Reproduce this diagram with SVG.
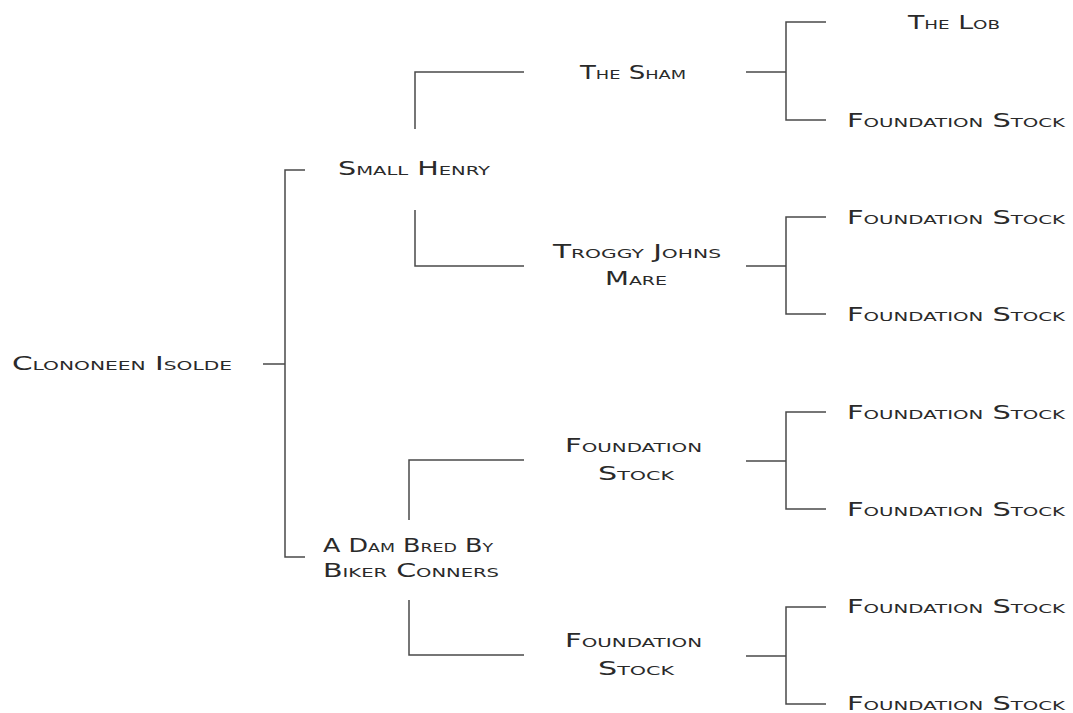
<svg xmlns="http://www.w3.org/2000/svg" width="1073" height="713" viewBox="0 0 1073 713">
<style>
text{font-family:"DejaVu Sans","Liberation Sans",sans-serif;font-size:19px;font-variant:small-caps;fill:#2a2a2a;}
.c{fill:none;stroke:#4a4a4a;stroke-width:1.5;}
</style>
<rect width="1073" height="713" fill="#fff"/>
<g id="connectors" class="c">
<path d="M263,364H285M305,170H285V557H305"/>
<path d="M415,129V72H524M415,210V266H524"/>
<path d="M409,520V460H524M409,600V655H524"/>
<path d="M746,72H786M826,22H786V120H826"/>
<path d="M746,266H786M826,217H786V314H826"/>
<path d="M746,461H786M826,412H786V509H826"/>
<path d="M746,656H786M826,607H786V704H826"/>
</g>
<g id="n-root"><text x="12" y="370" textLength="220" lengthAdjust="spacingAndGlyphs">Clononeen Isolde</text></g>
<g id="n-small-henry"><text x="338" y="175" textLength="152" lengthAdjust="spacingAndGlyphs">Small Henry</text></g>
<g id="n-dam-bred"><text x="323" y="552" textLength="170" lengthAdjust="spacingAndGlyphs">A Dam Bred By</text><text x="323" y="577" textLength="176" lengthAdjust="spacingAndGlyphs">Biker Conners</text></g>
<g id="n-the-sham"><text x="580" y="79" textLength="106" lengthAdjust="spacingAndGlyphs">The Sham</text></g>
<g id="n-troggy"><text x="553" y="258" textLength="168" lengthAdjust="spacingAndGlyphs">Troggy Johns</text><text x="605" y="285" textLength="62" lengthAdjust="spacingAndGlyphs">Mare</text></g>
<g id="n-fs-a"><text x="565" y="452" textLength="137" lengthAdjust="spacingAndGlyphs">Foundation</text><text x="598" y="480" textLength="76" lengthAdjust="spacingAndGlyphs">Stock</text></g>
<g id="n-fs-b"><text x="565" y="647" textLength="137" lengthAdjust="spacingAndGlyphs">Foundation</text><text x="598" y="675" textLength="76" lengthAdjust="spacingAndGlyphs">Stock</text></g>
<g id="n-the-lob"><text x="908" y="29" textLength="92" lengthAdjust="spacingAndGlyphs">The Lob</text></g>
<g id="n-fs-1"><text x="847" y="127" textLength="218" lengthAdjust="spacingAndGlyphs">Foundation Stock</text></g>
<g id="n-fs-2"><text x="847" y="224" textLength="218" lengthAdjust="spacingAndGlyphs">Foundation Stock</text></g>
<g id="n-fs-3"><text x="847" y="321" textLength="218" lengthAdjust="spacingAndGlyphs">Foundation Stock</text></g>
<g id="n-fs-4"><text x="847" y="419" textLength="218" lengthAdjust="spacingAndGlyphs">Foundation Stock</text></g>
<g id="n-fs-5"><text x="847" y="516" textLength="218" lengthAdjust="spacingAndGlyphs">Foundation Stock</text></g>
<g id="n-fs-6"><text x="847" y="613" textLength="218" lengthAdjust="spacingAndGlyphs">Foundation Stock</text></g>
<g id="n-fs-7"><text x="847" y="710" textLength="218" lengthAdjust="spacingAndGlyphs">Foundation Stock</text></g>
</svg>
